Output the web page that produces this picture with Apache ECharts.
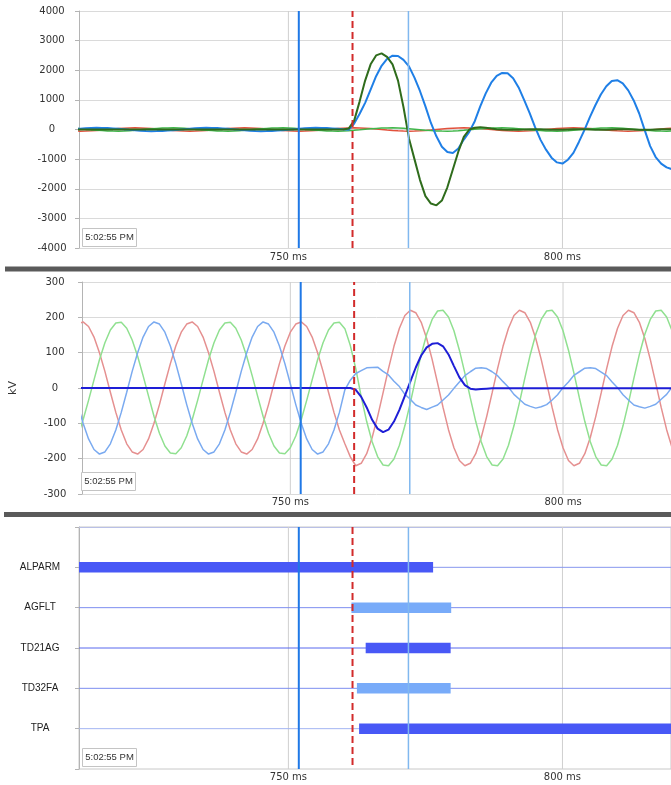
<!DOCTYPE html>
<html><head><meta charset="utf-8">
<script src="https://cdn.jsdelivr.net/npm/echarts@6/dist/echarts.min.js"></script>
<style>html,body{margin:0;padding:0;background:#fff}#c{width:671px;height:785px}</style>
</head><body><div id="c"></div>
<script>
// ---------- DATA ----------
const timesMs = [711,712,713,714,715,716,717,718,719,720,721,722,723,724,725,726,727,728,729,730,
731,732,733,734,735,736,737,738,739,740,741,742,743,744,745,746,747,748,749,750,
751,752,753,754,755,756,757,758,759,760,761,762,763,764,765,766,767,768,769,770,
771,772,773,774,775,776,777,778,779,780,781,782,783,784,785,786,787,788,789,790,
791,792,793,794,795,796,797,798,799,800,801,802,803,804,805,806,807,808,809,810,
811,812,813,814,815,816,817,818,819,820];

// top panel: currents (A)
const currentRed = [-52,
-55,-52,-44,-32,-17,0,17,32,44,52,55,52,44,32,17,0,-17,-32,-44,-52,
-55,-52,-44,-32,-17,0,17,32,44,52,55,52,44,32,17,0,-17,-32,-44,-52,
-55,-52,-44,-32,-17,0,17,32,44,52,55,52,44,32,17,0,-17,-32,-44,-52,
-55,-52,-44,-32,-17,0,17,32,44,52,55,52,44,32,17,0,-17,-32,-44,-52,
-55,-52,-44,-32,-17,0,17,32,44,52,55,52,44,32,17,0,-17,-32,-44,-52,
-55,-52,-44,-32,-17,0,17,32,44];
const currentGreen = [42,
28,12,-5,-22,-36,-47,-54,
-55,-50,-42,-28,-12,5,22,36,47,54,55,50,42,28,12,-5,-22,-36,-47,-54,
-55,-50,-42,-28,-12,5,22,36,47,54,55,50,42,28,12,-5,-22,-36,-47,-54,
-55,-50,-42,-28,-12,5,22,36,47,54,55,50,42,28,12,-5,-22,-36,-47,-54,
-55,-50,-42,-28,-12,5,22,36,47,54,55,50,42,28,12,-5,-22,-36,-47,-54,
-55,-50,-42,-28,-12,5,22,36,47,54,55,50,42,28,12,-5,-22,-36,-47,-54,
-55,-50];
const currentBlue = [12,
28,42,50,55,54,48,37,22,5,-12,-28,-42,-50,
-55,-54,-48,-37,-22,-5,12,28,42,50,55,54,48,37,22,5,-12,-28,-42,-50,
-55,-54,-48,-37,-22,-5,12,28,42,50,55,54,48,37,22,5,
-10,200,530,900,1350,1800,2150,2380,2490,2480,
2350,2130,1750,1300,780,220,-230,-580,-760,-790,
-640,-340,-80,280,780,1220,1580,1810,1910,1900,
1730,1420,1000,560,80,-350,-680,-950,-1110,-1150,
-1020,-790,-420,-20,420,820,1180,1460,1640,1665,
1560,1320,980,540,-20,-560,-930,-1150,-1280,-1340];
const currentGround = [0,0,0,0,0,0,0,0,0,0,0,0,0,0,0,0,0,0,0,0,0,0,0,0,0,
0,0,0,0,0,0,0,0,0,0,0,0,0,0,0,0,0,0,0,0,0,0,0,0,0,
30,300,950,1650,2200,2500,2570,2450,2200,1650,
750,-300,-1000,-1700,-2250,-2500,-2560,-2400,-1950,-1350,
-750,-250,0,60,80,60,30,10,
0,-5,-10,-5,0,5,8,5,0,-5,-8,-5,0,5,8,5,0,-5,-8,-5,0,5,8,5,0,-5,-8,-5,0,5,8,5];

// middle panel: voltages (kV)
const voltRed = [181,
187,174,144,100,47,-12,-69,-119,-158,-181,-187,-174,-144,-100,-47,12,69,119,158,181,
187,174,144,100,47,-12,-69,-119,-158,-181,-187,-174,-144,-100,-47,12,69,119,158,181,
187,174,144,100,47,-12,-69,-119,-158,
-195,
-220,-213,-186,-140,-81,-14,55,118,169,205,
220,213,186,140,81,14,-55,-118,-169,-205,-220,-213,-186,-140,-81,-14,55,118,169,205,
220,213,186,140,81,14,-55,-118,-169,-205,-220,-213,-186,-140,-81,-14,55,118,169,205,
220,213,186,140,81,14,-55,-118,-169];
const voltGreen = [-136,
-90,-35,23,80,128,164,184,
186,169,136,90,35,-23,-80,-128,-164,-184,-186,-169,-136,-90,-35,23,80,128,164,184,
186,169,136,90,35,-23,-80,-128,-164,-184,-186,-169,-136,-90,-35,23,80,128,164,184,
186,168,120,55,-25,-95,
-152,-194,-218,-220,-201,-162,-107,-42,28,95,152,194,218,
220,201,162,107,42,-28,-95,-152,-194,-218,-220,-201,-162,-107,-42,28,95,152,194,218,
220,201,162,107,42,-28,-95,-152,-194,-218,-220,-201,-162,-107,-42,28,95,152,194,218,
220,201,162];
const voltBlue = [-47,
-100,-144,-174,-187,-181,-158,-119,-69,-12,47,100,144,174,
187,181,158,119,69,12,-47,-100,-144,-174,-187,-181,-158,-119,-69,-12,47,100,144,174,
187,181,158,119,69,12,-47,-100,-144,-174,-187,-181,-158,
-119,-69,-5,
22,41,49,57,58,59,47,37,19,4,
-18,-32,-48,-55,-61,-54,-48,-34,-20,-1,
17,35,46,56,57,55,46,35,18,2,
-18,-32,-46,-52,-57,-53,-47,-34,-19,1,
17,36,46,56,57,55,45,35,17,1,
-19,-34,-48,-53,-57,-52,-46,-32,-18,3];
const voltNeutral = [0,0,0,0,0,0,0,0,0,0,0,0,0,0,0,0,0,0,0,0,0,0,0,0,0,
0,0,0,0,0,0,0,0,0,0,0,0,0,0,0,0,0,0,0,0,0,0,0,0,0,0,
-5,-25,-55,-90,-115,-125,-118,-95,-62,-22,18,58,92,115,125,127,118,95,62,30,8,-2,-4,-3,-2,
-1,-1,-1,-1,-1,-1,-1,-1,-1,-1,-1,-1,-1,-1,-1,-1,-1,-1,-1,-1,-1,-1,-1,-1,-1,-1,-1,-1,-1,-1,-1,-1,-1,-1];

// bottom panel: digital signals
const digitalNames = ['ALPARM','AGFLT','TD21AG','TD32FA','TPA'];
const digitalOn  = [711.8, 761.5, 764.1, 762.5, 762.9];
const digitalOff = [776.4, 779.7, 779.6, 779.6, 820];

// cursors, grid lines, ticks
const cursorsMs = [751.9, 761.7, 771.9];
const gridMs = [750, 800];
const xTickValues = [750, 800];
const yTicksCurrent = {min:-4000, max:4000, step:1000};
const yTicksVolt = {min:-300, max:300, step:100};
const timestampText = '5:02:55 PM';

// ---------- STYLE ----------
const X_MIN = 711.8, X_MAX = 819.8;
const axisFont = 'DejaVu Sans';
const cursorStyles = [
  {color:'#1f78e6', width:2, type:'solid'},
  {color:'#d22b2b', width:2, type:[7,4]},
  {color:'#80b8ef', width:1.5, type:'solid'}
];
const barColors = ['#4858f6','#78abf9','#4858f6','#78abf9','#4858f6'];
const thinColors = ['#8797ee','#7d8ef0','#5868ee','#7d8ef0','#a3b5f2'];

const pairs = arr => timesMs.map((t,i)=>[t, arr[i]]);
const series = [];
function vline(gi, x, ymin, ymax, st, z){
  series.push({type:'line', xAxisIndex:gi, yAxisIndex:gi, data:[[x,ymin],[x,ymax]],
    symbol:'none', silent:true, z:z, lineStyle:{color:st.color, width:st.width, type:st.type}});
}
function wave(gi, arr, color, width, z){
  series.push({type:'line', xAxisIndex:gi, yAxisIndex:gi, data:pairs(arr), symbol:'none',
    silent:true, z:z, lineStyle:{color:color, width:width}});
}
const ranges = [[-4000,4000],[-300,300],[0,6]];
ranges.forEach((r,gi)=>{
  gridMs.forEach(g=>vline(gi, g, r[0], r[1], {color:'#cfcfcf', width:1, type:'solid'}, 1));
});
wave(0, currentRed, '#e2513c', 1.5, 2);
wave(0, currentGreen, '#40b64a', 1.5, 2);
wave(0, currentBlue, '#1f7fe6', 2, 3);
wave(0, currentGround, '#2f6c1c', 2, 3);
wave(1, voltRed, '#e59090', 1.5, 2);
wave(1, voltGreen, '#90e090', 1.5, 2);
wave(1, voltBlue, '#7aaaf0', 1.5, 2);
wave(1, voltNeutral, '#1e1ed6', 2, 3);
digitalNames.forEach((n,i)=>{
  const row = i+1;
  series.push({type:'line', xAxisIndex:2, yAxisIndex:2, data:[[X_MIN,row],[X_MAX,row]], symbol:'none',
    silent:true, z:2, lineStyle:{color:thinColors[i], width:1}});
  series.push({type:'line', xAxisIndex:2, yAxisIndex:2, data:[[digitalOn[i],row],[digitalOff[i],row]], symbol:'none',
    silent:true, z:3, lineStyle:{color:barColors[i], width:10.5, cap:'butt'}});
});
ranges.forEach((r,gi)=>{
  cursorsMs.forEach((c,k)=>vline(gi, c, r[0], r[1], cursorStyles[k], 5));
});

const grids = [
  {left:79, top:11, width:592, height:237},
  {left:79, top:282, width:592, height:212},
  {left:79, top:527, width:592, height:242, show:true, borderColor:'#c8c8c8', borderWidth:1}
];
const xAxes = [0,1,2].map(gi=>({
  type:'value', gridIndex:gi, min:X_MIN, max:X_MAX,
  axisLine:{show: gi===2, lineStyle:{color:'#b9c0e6'}}, axisTick:{show:false}, splitLine:{show:false},
  axisLabel:{customValues:xTickValues, formatter:v=>v+' ms', margin:[4,3,3][gi], fontSize:10, color:'#333', fontFamily:axisFont}
}));
const yBase = {
  axisLine:{show:true, lineStyle:{color:'#b4b4b4'}},
  axisTick:{show:true, length:4, lineStyle:{color:'#b4b4b4'}},
  splitLine:{show:true, lineStyle:{color:'#dadada', width:1}},
  axisLabel:{align:'center', margin:27, fontSize:10, color:'#333', fontFamily:axisFont, formatter:v=>String(v)}
};
const yAxes = [
  Object.assign({}, yBase, {type:'value', gridIndex:0, min:yTicksCurrent.min, max:yTicksCurrent.max, interval:yTicksCurrent.step}),
  Object.assign({}, yBase, {type:'value', gridIndex:1, min:yTicksVolt.min, max:yTicksVolt.max, interval:yTicksVolt.step,
    name:'kV', nameLocation:'middle', nameGap:63, nameRotate:90, nameTextStyle:{fontSize:11, color:'#333', fontFamily:axisFont}}),
  {type:'value', gridIndex:2, min:0, max:6, interval:1, inverse:true,
    axisLine:{show:true, lineStyle:{color:'#b4b4b4'}},
    axisTick:{show:true, length:4, lineStyle:{color:'#b4b4b4'}},
    splitLine:{show:false},
    axisLabel:{align:'center', margin:39, fontSize:10, color:'#222', fontFamily:'Liberation Sans',
      formatter:v=> (v>=1 && v<=digitalNames.length) ? digitalNames[v-1] : ''}}
];

const stampBoxes = [[82,228],[81,472],[82,748]];
const graphic = [];
stampBoxes.forEach(p=>{
  graphic.push({type:'rect', shape:{x:p[0]+0.5, y:p[1]+0.5, width:54, height:18}, style:{fill:'#fff', stroke:'#c4c4c4', lineWidth:1}, z:100});
  graphic.push({type:'text', x:p[0]+27.5, y:p[1]+9.5, style:{text:timestampText, align:'center', verticalAlign:'middle', font:'9.5px "Liberation Sans"', fill:'#333'}, z:101});
});
graphic.push({type:'rect', shape:{x:5, y:266.5, width:666, height:5}, style:{fill:'#5a5a5a'}, z:100});
graphic.push({type:'rect', shape:{x:4, y:512, width:667, height:5}, style:{fill:'#5a5a5a'}, z:100});

const chart = echarts.init(document.getElementById('c'), null, {renderer:'canvas'});
chart.setOption({
  animation:false, backgroundColor:'#fff',
  grid:grids, xAxis:xAxes, yAxis:yAxes, series:series, graphic:graphic
});
</script></body></html>
